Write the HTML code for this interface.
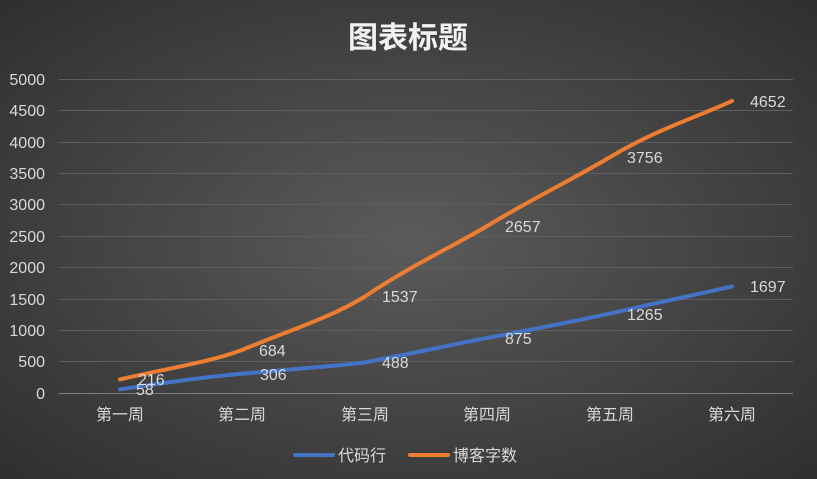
<!DOCTYPE html>
<html><head><meta charset="utf-8"><style>
html,body{margin:0;padding:0;}
body{width:817px;height:479px;overflow:hidden;background:radial-gradient(ellipse at center,#5b5b5b 0%,#474747 45%,#2f2f2f 100%);}
svg{display:block;font-family:"Liberation Sans","Noto Sans CJK SC",sans-serif;}
</style></head><body>
<svg width="817" height="479" viewBox="0 0 817 479">
<text x="408" y="48" text-anchor="middle" font-size="30" font-weight="bold" fill="#f2f2f2">图表标题</text>
<g stroke="#5e5e5e" stroke-width="1">
<line x1="59" x2="793" y1="79.5" y2="79.5"/><line x1="59" x2="793" y1="110.5" y2="110.5"/>
<line x1="59" x2="793" y1="142.5" y2="142.5"/><line x1="59" x2="793" y1="173.5" y2="173.5"/>
<line x1="59" x2="793" y1="204.5" y2="204.5"/><line x1="59" x2="793" y1="236.5" y2="236.5"/>
<line x1="59" x2="793" y1="267.5" y2="267.5"/><line x1="59" x2="793" y1="299.5" y2="299.5"/>
<line x1="59" x2="793" y1="330.5" y2="330.5"/><line x1="59" x2="793" y1="361.5" y2="361.5"/>
</g>
<line x1="59" x2="793" y1="393.5" y2="393.5" stroke="#808080"/>
<g font-size="16" fill="#d9d9d9" text-anchor="end">
<text x="45" y="85">5000</text><text x="45" y="116">4500</text><text x="45" y="148">4000</text>
<text x="45" y="179">3500</text><text x="45" y="210">3000</text><text x="45" y="242">2500</text>
<text x="45" y="273">2000</text><text x="45" y="305">1500</text><text x="45" y="336">1000</text>
<text x="45" y="367">500</text><text x="45" y="399">0</text>
</g>
<g font-size="16" fill="#d9d9d9" text-anchor="middle">
<text x="120" y="420">第一周</text><text x="242" y="420">第二周</text><text x="365" y="420">第三周</text>
<text x="487" y="420">第四周</text><text x="610" y="420">第五周</text><text x="732" y="420">第六周</text>
</g>
<path d="M120,389.4 C170,382 205,377 242,373.8 C290,369 330,367 365,362.4 C410,354 450,345 487,338 C530,330 575,321 610,313.6 C655,303 695,295 732,286.4" fill="none" stroke="#4472c4" stroke-width="4" stroke-linecap="round"/>
<path d="M120,379.4 C170,368 210,362 242,350 C290,330 330,318 365,296.5 C410,266 450,248 487,226.1 C530,200 575,178 610,157.1 C655,130 695,118 732,100.9" fill="none" stroke="#ed7d31" stroke-width="4" stroke-linecap="round"/>
<g font-size="16" fill="#d9d9d9">
<text x="138" y="385">216</text><text x="259" y="356">684</text><text x="382" y="302">1537</text>
<text x="505" y="232">2657</text><text x="627" y="163">3756</text><text x="750" y="107">4652</text>
<text x="136" y="395">58</text><text x="260" y="380">306</text><text x="382" y="368">488</text>
<text x="505" y="344">875</text><text x="627" y="320">1265</text><text x="750" y="292">1697</text>
</g>
<line x1="295" x2="333" y1="455" y2="455" stroke="#4472c4" stroke-width="4" stroke-linecap="round"/>
<text x="338" y="461" font-size="16" fill="#d9d9d9">代码行</text>
<line x1="410" x2="448" y1="455" y2="455" stroke="#ed7d31" stroke-width="4" stroke-linecap="round"/>
<text x="453" y="461" font-size="16" fill="#d9d9d9">博客字数</text>
</svg>
</body></html>
